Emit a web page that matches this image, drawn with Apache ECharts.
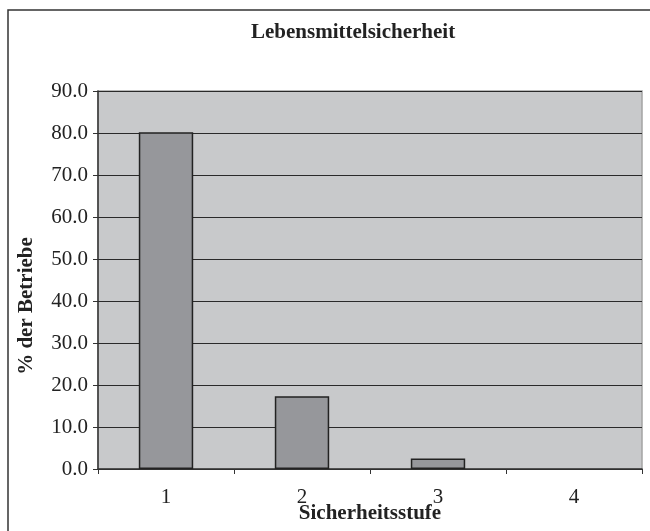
<!DOCTYPE html>
<html>
<head>
<meta charset="utf-8">
<script src="https://cdn.jsdelivr.net/npm/echarts@6/dist/echarts.min.js"></script>
<style>
  html, body { margin: 0; padding: 0; background: #fff; }
  #chart { width: 650px; height: 531px; }
</style>
</head>
<body>
<div id="chart"></div>
<script>
const categories = ['1', '2', '3', '4']
const shares = [80.2, 17.3, 2.5, 0]
const yTicks = { min: 0, max: 90, interval: 10 }

const serif = '"Liberation Serif", "DejaVu Serif", serif'
const chart = echarts.init(document.getElementById('chart'))

// a zero bar should not leave a border line on the axis
const barData = shares.map(v => (v > 0 ? v : { value: v, itemStyle: { borderWidth: 0 } }))

chart.setOption({
  backgroundColor: '#fff',
  animation: false,
  title: {
    text: 'Lebensmittelsicherheit',
    left: 246,
    top: 17,
    textStyle: { fontFamily: serif, fontSize: 21, fontWeight: 'bold', color: '#222' }
  },
  graphic: [
    {
      type: 'polyline',
      silent: true,
      shape: { points: [[8, 540], [8, 10], [660, 10]] },
      style: { fill: null, stroke: '#333', lineWidth: 1.5 }
    }
  ],
  grid: {
    left: 98,
    right: 8,
    top: 91,
    bottom: 62,
    outerBoundsMode: 'none',
    containLabel: false,
    show: true,
    backgroundColor: '#c8c9cb',
    borderColor: '#a4a4a4',
    borderWidth: 1.5
  },
  xAxis: {
    type: 'category',
    data: categories,
    name: 'Sicherheitsstufe',
    nameLocation: 'middle',
    nameGap: 34,
    nameMoveOverlap: false,
    nameTextStyle: { fontFamily: serif, fontSize: 21, fontWeight: 'bold', color: '#222' },
    axisLine: { lineStyle: { color: '#333', width: 1.5 } },
    axisTick: { show: true, length: 5, lineStyle: { color: '#333' } },
    axisLabel: { fontFamily: serif, fontSize: 21, color: '#222', margin: 18 }
  },
  yAxis: {
    type: 'value',
    min: yTicks.min,
    max: yTicks.max,
    interval: yTicks.interval,
    name: '% der Betriebe',
    nameLocation: 'middle',
    nameRotate: 90,
    nameGap: 61,
    nameMoveOverlap: false,
    nameTextStyle: {
      fontFamily: serif,
      fontSize: 21,
      fontWeight: 'bold',
      color: '#222',
      padding: [0, 52, 0, 0]
    },
    axisLine: { show: true, lineStyle: { color: '#333', width: 1.5 } },
    axisTick: { show: true, length: 5, lineStyle: { color: '#333' } },
    axisLabel: {
      fontFamily: serif,
      fontSize: 21,
      color: '#222',
      margin: 10,
      formatter: v => v.toFixed(1)
    },
    splitLine: { lineStyle: { color: '#2a2a2a', width: 1.2 } }
  },
  series: [
    {
      type: 'bar',
      data: barData,
      barWidth: '40%',
      itemStyle: { color: '#96979b', borderColor: '#222', borderWidth: 1.5 }
    }
  ]
})
</script>
</body>
</html>
